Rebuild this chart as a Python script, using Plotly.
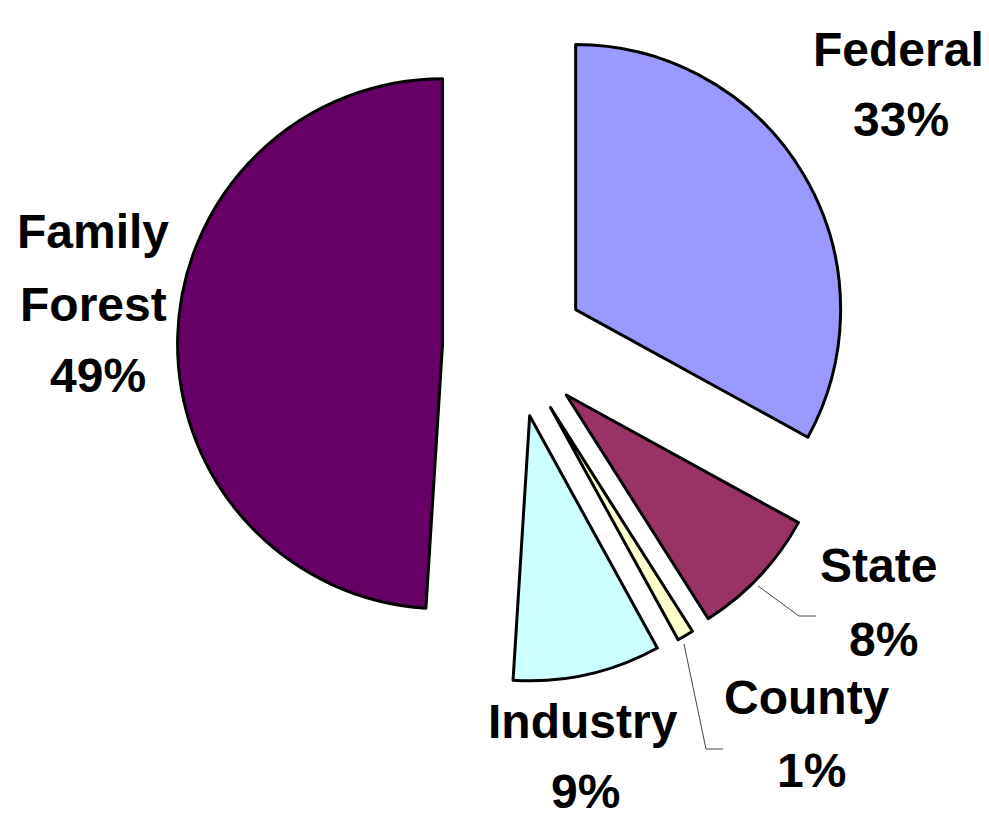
import plotly.graph_objects as go

# ---- data ----
owners = ["Federal", "State", "County", "Industry", "Family Forest"]
shares = [33, 8, 1, 9, 49]
slice_colors = ["#9999FF", "#993366", "#FFFFCC", "#CCFFFF", "#660066"]

W, H = 989, 822

def px(x, y):
    """pixel (from top-left) -> paper coords"""
    return x / W, 1 - y / H

# label layout (pixel centres of each text line)
label_layout = {
    "Federal": [(897, 50), (900, 120)],
    "State": [(877, 566), (882, 640)],
    "County": [(806, 698), (810, 771)],
    "Industry": [(582, 722), (584, 792)],
    "Family Forest": [(92, 232), (92, 305), (97, 377)],
}

fig = go.Figure()
fig.add_trace(go.Pie(
    labels=owners,
    values=shares,
    sort=False,
    direction="clockwise",
    rotation=0,
    pull=[0.27] * len(shares),
    marker=dict(colors=slice_colors, line=dict(color="black", width=3)),
    textinfo="none",
    hoverinfo="label+percent",
    showlegend=False,
    domain=dict(x=[0.1714, 0.8520], y=[0.1794, 0.9982]),
))

total = sum(shares)
font = dict(family="Liberation Sans, Arial, sans-serif", size=48, color="black")
annotations = []
for name, val in zip(owners, shares):
    lines = name.split(" ") + [f"{round(100 * val / total)}%"]
    for text, (x, y) in zip(lines, label_layout[name]):
        xp, yp = px(x, y)
        annotations.append(dict(
            x=xp, y=yp, xref="paper", yref="paper",
            text=f"<b>{text}</b>", showarrow=False,
            xanchor="center", yanchor="middle", font=font,
            xshift=-7, yshift=9, borderpad=0,
        ))

# leader lines for the small slices
leaders = [
    [(750, 578), (791, 608), (808, 608)],
    [(676, 636), (698, 741), (715, 741)],
]
shapes = []
for pts in leaders:
    path = "M " + " L ".join(f"{px(x, y)[0]},{px(x, y)[1]}" for x, y in pts)
    shapes.append(dict(type="path", path=path, xref="paper", yref="paper",
                       line=dict(color="#444444", width=1)))

fig.update_layout(
    width=W, height=H,
    margin=dict(l=0, r=0, t=0, b=0),
    paper_bgcolor="white",
    plot_bgcolor="white",
    annotations=annotations,
    shapes=shapes,
)

fig.write_html("out.html")
